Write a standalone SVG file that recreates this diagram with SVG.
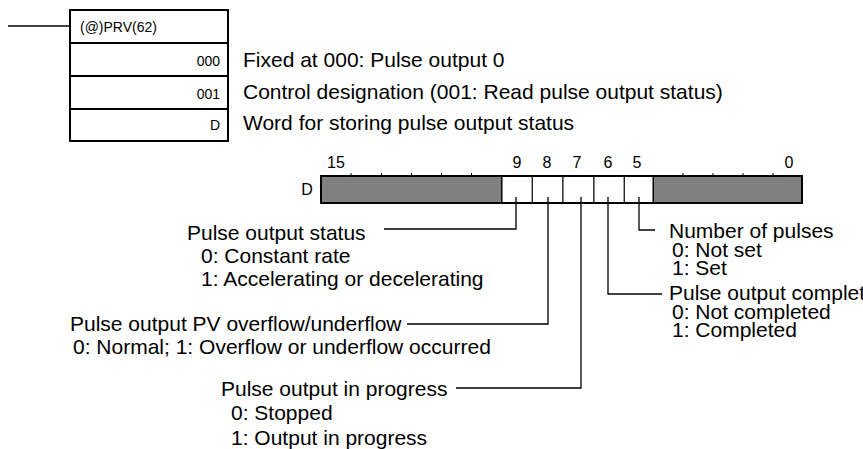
<svg xmlns="http://www.w3.org/2000/svg" width="863" height="449" viewBox="0 0 863 449">
<style>
.lbl{font-family:"Liberation Sans",Arial,sans-serif;font-size:21px;fill:#000}
.sm{font-family:"Liberation Sans",Arial,sans-serif;font-size:14px;fill:#000}
.bit{font-family:"Liberation Sans",Arial,sans-serif;font-size:16px;fill:#000;text-anchor:middle}
.ln{fill:none;stroke:#000;stroke-width:1.3}
.box{fill:#fff;stroke:#000;stroke-width:2}
.sep{stroke:#000;stroke-width:2}
.gray{fill:#808080;stroke:#000;stroke-width:2}
.cell{fill:#fff;stroke:#000;stroke-width:1}
</style>
<rect width="863" height="449" fill="#fff"/>
<g id="instruction">
<line class="ln" x1="8" y1="26" x2="70" y2="26"/>
<rect class="box" x="70" y="10" width="158" height="131"/>
<line class="sep" x1="70" y1="43" x2="228" y2="43"/>
<line class="sep" x1="70" y1="76" x2="228" y2="76"/>
<line class="sep" x1="70" y1="109" x2="228" y2="109"/>
<text class="sm" x="80" y="32" font-size="15">(@)PRV(62)</text>
<text class="sm" x="220" y="66" text-anchor="end">000</text>
<text class="sm" x="220" y="99" text-anchor="end">001</text>
<text class="sm" x="220" y="130" text-anchor="end">D</text>
</g>
<g id="operand-labels">
<text class="lbl" x="243" y="67">Fixed at 000: Pulse output 0</text>
<text class="lbl" x="243" y="99">Control designation (001: Read pulse output status)</text>
<text class="lbl" x="243" y="130">Word for storing pulse output status</text>
</g>
<g id="register">
<text class="bit" x="307" y="195" font-size="17">D</text>
<text class="bit" x="336" y="168">15</text>
<text class="bit" x="517" y="168">9</text>
<text class="bit" x="547" y="168">8</text>
<text class="bit" x="577" y="168">7</text>
<text class="bit" x="608" y="168">6</text>
<text class="bit" x="637" y="168">5</text>
<text class="bit" x="789" y="168">0</text>
<rect class="gray" x="321" y="176" width="181" height="27"/>
<rect class="gray" x="653" y="176" width="149" height="27"/>
<rect class="cell" x="502" y="176" width="30.3" height="27"/>
<rect class="cell" x="532.3" y="176" width="30.7" height="27"/>
<rect class="cell" x="563" y="176" width="31" height="27"/>
<rect class="cell" x="594" y="176" width="30.3" height="27"/>
<rect class="cell" x="624.3" y="176" width="28.7" height="27"/>
<line x1="321" y1="176" x2="802" y2="176" stroke="#000" stroke-width="2"/>
<line x1="321" y1="203" x2="802" y2="203" stroke="#000" stroke-width="2"/>
<path d="M351 173V176M381.5 173V176M411.5 173V176M441.5 173V176M471.5 173V176M683 173V176M713 173V176M743 173V176M773 173V176" stroke="#000" stroke-width="1"/>
</g>
<g id="connectors">
<path class="ln" d="M516 197V229H384"/>
<path class="ln" d="M548 197V324H407"/>
<path class="ln" d="M581 197V388H456"/>
<path class="ln" d="M608 197V294H662"/>
<path class="ln" d="M639 197V230H655"/>
</g>
<g id="bit9">
<text class="lbl" x="187" y="240">Pulse output status</text>
<text class="lbl" x="201" y="263">0: Constant rate</text>
<text class="lbl" x="201" y="286">1: Accelerating or decelerating</text>
</g>
<g id="bit8">
<text class="lbl" x="70" y="331">Pulse output PV overflow/underflow</text>
<text class="lbl" x="73" y="354">0: Normal; 1: Overflow or underflow occurred</text>
</g>
<g id="bit7">
<text class="lbl" x="221" y="396">Pulse output in progress</text>
<text class="lbl" x="231" y="420">0: Stopped</text>
<text class="lbl" x="231" y="445">1: Output in progress</text>
</g>
<g id="bit5">
<text class="lbl" x="669" y="238">Number of pulses</text>
<text class="lbl" x="672" y="256.5">0: Not set</text>
<text class="lbl" x="672" y="275">1: Set</text>
</g>
<g id="bit6">
<text class="lbl" x="669" y="300">Pulse output complet</text>
<text class="lbl" x="672" y="318.5">0: Not completed</text>
<text class="lbl" x="672" y="337">1: Completed</text>
</g>
</svg>
